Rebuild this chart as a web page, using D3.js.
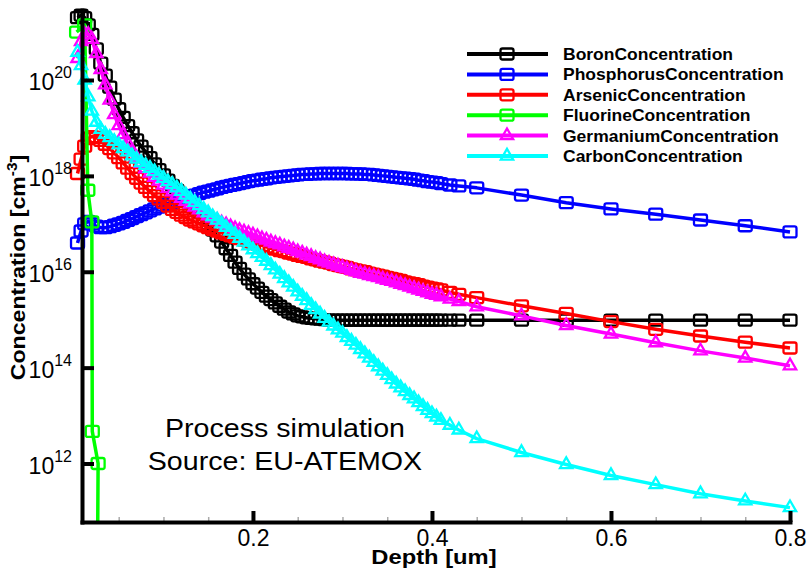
<!DOCTYPE html>
<html><head><meta charset="utf-8">
<script src="https://cdn.jsdelivr.net/npm/d3@7"></script>
<style>
html,body{margin:0;padding:0;background:#fff;}
svg{display:block;font-family:"Liberation Sans",Arial,Helvetica,sans-serif;}
</style></head><body>
<svg id="chart" width="807" height="577"></svg>
<script>
// ---------------- DATA (log10 of concentration in cm^-3) ----------------
const depth = [
  0.004,0.008,0.012,0.016,0.02,0.025,0.03,0.035,0.04,0.045,
  0.05,0.055,0.06,0.065,0.07,0.075,0.08,0.085,0.09,0.095,
  0.1,0.105,0.11,0.115,0.12,0.125,0.13,0.135,0.14,0.145,
  0.15,0.155,0.16,0.165,0.17,0.175,0.18,0.185,0.19,0.195,
  0.2,0.205,0.21,0.215,0.22,0.225,0.23,0.235,0.24,0.245,
  0.25,0.255,0.26,0.265,0.27,0.275,0.28,0.285,0.29,0.295,
  0.3,0.305,0.31,0.315,0.32,0.325,0.33,0.335,0.34,0.345,
  0.35,0.355,0.36,0.365,0.37,0.375,0.38,0.385,0.39,0.395,
  0.4,0.405,0.41,0.42,0.43,0.45,0.5,0.55,0.6,0.65,0.7,0.75,0.8];

const boronLog10 = [
  21.3,21.35,21.3,21.15,20.95,20.65,20.35,20.1,19.85,19.6,
  19.4,19.22,19.05,18.9,18.75,18.62,18.5,18.38,18.25,18.13,
  18.02,17.91,17.8,17.7,17.6,17.51,17.42,17.33,17.25,17.13,
  17.0,16.87,16.75,16.62,16.48,16.34,16.2,16.07,15.95,15.85,
  15.75,15.66,15.57,15.49,15.42,15.35,15.28,15.22,15.16,15.12,
  15.08,15.06,15.04,15.03,15.02,15.01,15.0,14.99,14.99,14.99,
  14.99,14.99,14.99,14.99,14.99,14.99,14.99,14.99,14.99,14.99,
  14.99,14.99,14.99,14.99,14.99,14.99,14.99,14.99,14.99,14.99,
  14.99,14.99,14.99,14.99,14.99,14.99,14.99,14.99,14.99,14.99,14.99,14.99,14.99];

const phosphorusLog10 = [
  16.6,16.85,17.0,17.05,17.0,16.95,16.92,16.92,16.94,16.97,
  17.0,17.03,17.07,17.11,17.15,17.19,17.23,17.27,17.31,17.35,
  17.39,17.42,17.45,17.48,17.51,17.54,17.57,17.6,17.63,17.66,
  17.68,17.71,17.73,17.76,17.78,17.8,17.82,17.84,17.86,17.88,
  17.9,17.91,17.93,17.94,17.96,17.97,17.98,17.99,18.0,18.01,
  18.02,18.03,18.03,18.04,18.04,18.05,18.05,18.05,18.05,18.05,
  18.05,18.05,18.04,18.04,18.04,18.03,18.03,18.02,18.01,18.0,
  17.99,17.98,17.97,17.96,17.95,17.94,17.93,17.91,17.9,17.88,
  17.87,17.86,17.84,17.81,17.79,17.75,17.6,17.44,17.31,17.2,17.08,16.96,16.83];

const arsenicLog10 = [
  18.05,18.35,18.62,18.78,18.82,18.8,18.74,18.66,18.57,18.48,
  18.38,18.27,18.16,18.05,17.95,17.85,17.76,17.67,17.59,17.52,
  17.45,17.37,17.3,17.24,17.18,17.13,17.08,17.04,17.0,16.96,
  16.92,16.88,16.85,16.81,16.78,16.75,16.72,16.69,16.66,16.63,
  16.6,16.57,16.55,16.52,16.49,16.47,16.44,16.42,16.39,16.37,
  16.34,16.32,16.3,16.27,16.25,16.22,16.2,16.18,16.15,16.13,
  16.11,16.09,16.06,16.04,16.02,16.0,15.97,15.95,15.93,15.91,
  15.88,15.86,15.84,15.82,15.79,15.77,15.75,15.73,15.7,15.68,
  15.66,15.64,15.62,15.57,15.53,15.46,15.29,15.13,14.96,14.8,14.66,14.53,14.41];

const fluorineDepth = [0.003, 0.012, 0.0155, 0.02, 0.0205, 0.027, 0.0258];
const fluorineLog10 = [21.0, 21.15, 17.7, 17.04, 12.67, 12.0, 8.5];

const germaniumLog10 = [
  20.45,20.8,20.95,20.95,20.85,20.55,20.22,19.9,19.58,19.28,
  19.05,18.86,18.68,18.52,18.38,18.26,18.15,18.06,17.97,17.89,
  17.81,17.74,17.67,17.6,17.53,17.47,17.41,17.35,17.29,17.23,
  17.17,17.12,17.07,17.02,16.98,16.94,16.9,16.86,16.83,16.8,
  16.77,16.73,16.69,16.66,16.62,16.59,16.56,16.52,16.49,16.46,
  16.42,16.39,16.35,16.32,16.28,16.25,16.21,16.18,16.15,16.12,
  16.09,16.06,16.03,16.0,15.97,15.95,15.92,15.9,15.88,15.85,
  15.82,15.8,15.77,15.74,15.71,15.68,15.65,15.62,15.59,15.56,
  15.53,15.51,15.48,15.43,15.38,15.27,15.08,14.88,14.7,14.52,14.35,14.2,14.04];

const carbonLog10 = [
  20.58,20.3,20.0,19.65,19.35,19.12,18.97,18.87,18.8,18.72,
  18.65,18.57,18.5,18.42,18.35,18.28,18.22,18.16,18.09,18.02,
  17.95,17.88,17.82,17.75,17.68,17.6,17.52,17.45,17.38,17.3,
  17.23,17.15,17.08,17.0,16.93,16.85,16.78,16.7,16.62,16.54,
  16.46,16.38,16.3,16.22,16.13,16.04,15.95,15.86,15.77,15.68,
  15.58,15.49,15.4,15.3,15.21,15.12,15.03,14.95,14.87,14.79,
  14.72,14.63,14.55,14.47,14.38,14.29,14.2,14.11,14.02,13.93,
  13.84,13.75,13.66,13.58,13.5,13.42,13.35,13.27,13.19,13.11,
  13.04,12.97,12.9,12.8,12.7,12.52,12.23,11.98,11.75,11.56,11.37,11.22,11.08];

const seriesNames = ["BoronConcentration","PhosphorusConcentration","ArsenicConcentration",
                     "FluorineConcentration","GermaniumConcentration","CarbonConcentration"];
const xTickValues = [0.2, 0.4, 0.6, 0.8];
const xMinorTickValues = [0.05,0.1,0.15,0.25,0.3,0.35,0.45,0.5,0.55,0.65,0.7,0.75];
const yTickExponents = [12, 14, 16, 18, 20];
const xTitle = "Depth [um]";
const yTitleParts = ["Concentration [cm", "-3", "]"];
const annotationLines = ["Process simulation", "Source: EU-ATEMOX"];

// ---------------- STYLE ----------------
const seriesColors = ["#000000","#0000ff","#ff0000","#00ff00","#ff00ff","#00ffff"];
const seriesMarkers = ["square","square","square","square","triangle","triangle"];

const series = [
  {xs: depth, v: boronLog10},
  {xs: depth, v: phosphorusLog10},
  {xs: depth, v: arsenicLog10},
  {xs: fluorineDepth, v: fluorineLog10},
  {xs: depth, v: germaniumLog10},
  {xs: depth, v: carbonLog10}
].map((s, i) => ({
  name: seriesNames[i], color: seriesColors[i], marker: seriesMarkers[i],
  pts: s.xs.map((d, j) => [d, Math.pow(10, s.v[j])])
}));

// ---------------- CHART ----------------
const svg = d3.select("#chart");
const x = d3.scaleLinear().domain([0.009, 0.8]).range([82, 790]);
const y = d3.scaleLog().domain([Math.pow(10, 10.78), Math.pow(10, 21.46)]).range([522, 10]);

svg.append("defs").append("clipPath").attr("id", "clip")
  .append("rect").attr("x", 60).attr("y", 0).attr("width", 747).attr("height", 522);

const plot = svg.append("g").attr("clip-path", "url(#clip)");
const line = d3.line().x(d => x(d[0])).y(d => y(d[1]));

function drawMarker(g, color, type, px, py) {
  if (type === "square") {
    g.append("rect").attr("x", px - 6.5).attr("y", py - 5.5)
      .attr("width", 13).attr("height", 11).attr("rx", 2)
      .attr("fill", "none").attr("stroke", color).attr("stroke-width", 2.3);
  } else {
    g.append("path").attr("d", d3.symbol(d3.symbolTriangle, 66)())
      .attr("transform", `translate(${px},${py})`)
      .attr("fill", "none").attr("stroke", color).attr("stroke-width", 2.3);
  }
}

series.forEach(s => {
  const g = plot.append("g");
  g.append("path").attr("d", line(s.pts)).attr("fill", "none")
    .attr("stroke", s.color).attr("stroke-width", 3.5).attr("stroke-linejoin", "round");
  s.pts.forEach(p => drawMarker(g, s.color, s.marker, x(p[0]), y(p[1])));
});

// X axis: minor ticks
const gxm = svg.append("g").attr("transform", "translate(0,522)")
  .call(d3.axisBottom(x).tickValues(xMinorTickValues).tickSize(-5).tickFormat(""));
gxm.select(".domain").remove();
gxm.selectAll(".tick line").attr("stroke", "#aaa").attr("stroke-width", 1.5);

// X axis: major
const gx = svg.append("g").attr("transform", "translate(0,522)")
  .call(d3.axisBottom(x).tickValues(xTickValues).tickSize(-11).tickSizeOuter(0)
        .tickPadding(8).tickFormat(d3.format(".1f")));
gx.attr("font-family", null).attr("font-size", null);
gx.select(".domain").attr("stroke-width", 4).attr("stroke-linecap", "square");
gx.selectAll(".tick line").attr("stroke-width", 4);
gx.selectAll(".tick text").attr("font-size", 23).attr("fill", "#000");

// Y axis
const gy = svg.append("g").attr("transform", "translate(82,0)")
  .call(d3.axisLeft(y).tickValues(yTickExponents.map(e => Math.pow(10, e)))
        .tickSize(-12).tickSizeOuter(0).tickFormat(""));
gy.attr("font-family", null).attr("font-size", null);
gy.select(".domain").attr("stroke-width", 4).attr("stroke-linecap", "square");
gy.selectAll(".tick line").attr("stroke-width", 4);
gy.selectAll(".tick").each(function(d, i) {
  const t = d3.select(this).append("text").attr("x", -10).attr("y", 10)
    .attr("text-anchor", "end").attr("fill", "#000");
  t.append("tspan").attr("font-size", 23).text("10");
  t.append("tspan").attr("font-size", 16).attr("dy", -12).text(yTickExponents[i]);
});

// helper: widen text horizontally (source fonts are slightly wider)
function stretchCentered(sel, factor, cx) {
  const w = sel.node().getComputedTextLength();
  const L = w * factor;
  sel.attr("textLength", L).attr("lengthAdjust", "spacingAndGlyphs")
     .attr("text-anchor", "start").attr("x", cx - L / 2);
}

// Axis titles
const xt = svg.append("text").attr("y", 564).attr("font-size", 21)
  .attr("font-weight", "bold").attr("fill", "#000").text(xTitle);
stretchCentered(xt, 1.13, 434);

const yt = svg.append("text").attr("transform", "translate(25,267.5) rotate(-90)")
  .attr("y", 0).attr("font-size", 21).attr("font-weight", "bold").attr("fill", "#000");
yt.append("tspan").text(yTitleParts[0]);
yt.append("tspan").attr("font-size", 14).attr("dy", -8).text(yTitleParts[1]);
yt.append("tspan").attr("dy", 8).text(yTitleParts[2]);
stretchCentered(yt, 1.1, 0);

// Legend
series.forEach((s, i) => {
  const ry = 54 + i * 20.4;
  const g = svg.append("g");
  g.append("line").attr("x1", 467).attr("x2", 548).attr("y1", ry).attr("y2", ry)
    .attr("stroke", s.color).attr("stroke-width", 4);
  drawMarker(g, s.color, s.marker, 507, ry);
  const t = g.append("text").attr("x", 563).attr("y", ry + 6)
    .attr("font-size", 16.5).attr("font-weight", "bold").attr("fill", "#000").text(s.name);
  const w = t.node().getComputedTextLength();
  t.attr("textLength", w * 1.06).attr("lengthAdjust", "spacingAndGlyphs");
});

// Annotation
annotationLines.forEach((txt, i) => {
  const t = svg.append("text").attr("y", 437 + i * 33).attr("font-size", 26)
    .attr("fill", "#000").text(txt);
  stretchCentered(t, 1.1, 285);
});
</script>
</body></html>
